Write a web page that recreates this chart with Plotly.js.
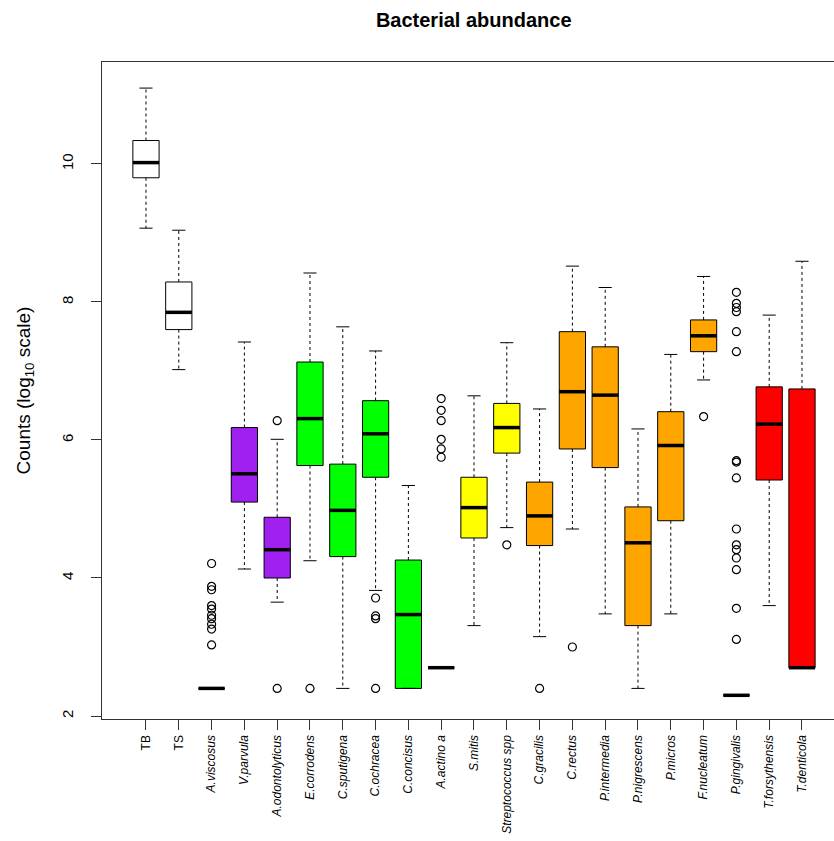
<!DOCTYPE html>
<html>
<head>
<meta charset="utf-8">
<script src="https://cdn.plot.ly/plotly-3.0.1.min.js"></script>
<style>html,body{margin:0;padding:0;background:#fff;}#chart{width:834px;height:841px;}</style>
</head>
<body>
<div id="chart"></div>
<script>
// ---- data (log10 counts) ----
const categories = ["TB","TS","A.viscosus","V.parvula","A.odontolyticus","E.corrodens","C.sputigena","C.ochracea","C.concisus","A.actino a","S.mitis","Streptococcus spp","C.gracilis","C.rectus","P.intermedia","P.nigrescens","P.micros","F.nucleatum","P.gingivalis","T.forsythensis","T.denticola"];
const italicLabel = [false,false,true,true,true,true,true,true,true,true,true,true,true,true,true,true,true,true,true,true,true];
const lowerWhisker = [9.07, 7.02, 2.40, 4.13, 3.65, 4.25, 2.40, 3.82, 2.40, 2.70, 3.31, 4.73, 3.15, 4.71, 3.48, 2.40, 3.48, 6.87, 2.30, 3.60, 2.70];
const q1           = [9.80, 7.60, 2.40, 5.10, 4.00, 5.63, 4.31, 5.46, 2.40, 2.70, 4.58, 5.81, 4.47, 5.87, 5.60, 3.31, 4.83, 7.28, 2.30, 5.42, 2.70];
const median       = [10.02, 7.85, 2.40, 5.51, 4.41, 6.31, 4.98, 6.09, 3.47, 2.70, 5.02, 6.18, 4.90, 6.70, 6.65, 4.51, 5.92, 7.51, 2.30, 6.23, 2.70];
const q3           = [10.34, 8.29, 2.40, 6.18, 4.88, 7.13, 5.65, 6.57, 4.26, 2.70, 5.46, 6.53, 5.39, 7.57, 7.35, 5.03, 6.41, 7.74, 2.30, 6.77, 6.74];
const upperWhisker = [11.10, 9.04, 2.40, 7.42, 6.01, 8.42, 7.64, 7.29, 5.34, 2.70, 6.64, 7.41, 6.45, 8.52, 8.21, 6.16, 7.24, 8.37, 2.30, 7.81, 8.59];
const outliers = [
  [], [],
  [4.21, 3.88, 3.83, 3.60, 3.55, 3.46, 3.41, 3.33, 3.26, 3.03],
  [],
  [6.28, 2.40],
  [2.40],
  [],
  [3.71, 3.45, 3.41, 2.40],
  [],
  [6.60, 6.43, 6.28, 6.01, 5.87, 5.75],
  [],
  [4.48],
  [2.40],
  [3.00],
  [], [], [],
  [6.34],
  [8.14, 7.98, 7.92, 7.86, 7.57, 7.28, 5.70, 5.68, 5.45, 4.71, 4.48, 4.41, 4.29, 4.12, 3.56, 3.11],
  [], []
];
const boxColors = ["#FFFFFF","#FFFFFF","#FFFFFF","#A020F0","#A020F0","#00FF00","#00FF00","#00FF00","#00FF00","#00FF00","#FFFF00","#FFFF00","#FFA500","#FFA500","#FFA500","#FFA500","#FFA500","#FFA500","#FFA500","#FF0000","#FF0000"];
const yTicks = [2, 4, 6, 8, 10];

// ---- build traces ----
const pos = categories.map((c, i) => i + 1);
const halfBox = 0.4, halfCap = 0.2;

const wx = [], wy = [], cx = [], cy = [], mx = [], my = [], ox = [], oy = [];
pos.forEach((p, i) => {
  wx.push(p, p, null, p, p, null);
  wy.push(q3[i], upperWhisker[i], null, q1[i], lowerWhisker[i], null);
  cx.push(p - halfCap, p + halfCap, null, p - halfCap, p + halfCap, null);
  cy.push(upperWhisker[i], upperWhisker[i], null, lowerWhisker[i], lowerWhisker[i], null);
  mx.push(p - halfBox, p + halfBox, null);
  my.push(median[i], median[i], null);
  outliers[i].forEach(v => { ox.push(p); oy.push(v); });
});

const traces = [
  {type: 'scatter', mode: 'lines', x: wx, y: wy, line: {color: '#000', width: 1, dash: '3px,3px'}, hoverinfo: 'skip'},
  {type: 'scatter', mode: 'lines', x: cx, y: cy, line: {color: '#000', width: 1}, hoverinfo: 'skip'},
  {type: 'bar', x: pos, base: q1, y: q3.map((v, i) => v - q1[i]), width: 2 * halfBox,
   marker: {color: boxColors, line: {color: '#000', width: 1}}, hoverinfo: 'skip'},
  {type: 'scatter', mode: 'lines', x: mx, y: my, line: {color: '#000', width: 3.5}, hoverinfo: 'skip'},
  {type: 'scatter', mode: 'markers', x: ox, y: oy,
   marker: {symbol: 'circle-open', size: 8, color: '#000', line: {width: 1.2, color: '#000'}}, hoverinfo: 'skip'}
];

const font = "Liberation Sans, Arial, Helvetica, sans-serif";
const layout = {
  width: 834, height: 841,
  margin: {l: 102, r: 0, t: 62, b: 122, pad: 0},
  paper_bgcolor: '#fff', plot_bgcolor: '#fff',
  showlegend: false,
  bargap: 0,
  font: {family: font, color: '#000'},
  title: {text: '<b>Bacterial abundance</b>', font: {family: font, size: 20, color: '#000'},
          xref: 'container', x: 0.568, xanchor: 'center', yref: 'container', y: 0.976, yanchor: 'middle'},
  xaxis: {
    range: [-0.341, 21.976], tickmode: 'array', tickvals: pos,
    ticktext: categories.map((c, i) => italicLabel[i] ? '<i>' + c + '</i>' : c),
    tickangle: -90, ticks: 'outside', ticklen: 10, tickwidth: 1, tickcolor: '#333',
    tickfont: {family: font, size: 12, color: '#000'},
    showline: true, linecolor: '#333', linewidth: 1.3, mirror: true,
    showgrid: false, zeroline: false, fixedrange: true
  },
  yaxis: {
    range: [1.9565, 11.478], tickmode: 'array', tickvals: yTicks, ticktext: yTicks.map(String),
    tickangle: -90, ticks: 'outside', ticklen: 10, tickwidth: 1, tickcolor: '#333',
    ticklabelstandoff: 12,
    tickfont: {family: font, size: 15, color: '#000'},
    showline: true, linecolor: '#333', linewidth: 1.3,
    showgrid: false, zeroline: false, fixedrange: true,
    title: {text: 'Counts (log<sub>10</sub> scale)', font: {family: font, size: 19, color: '#000'}, standoff: 23}
  }
};

Plotly.newPlot('chart', traces, layout, {staticPlot: true, displayModeBar: false});
</script>
</body>
</html>
